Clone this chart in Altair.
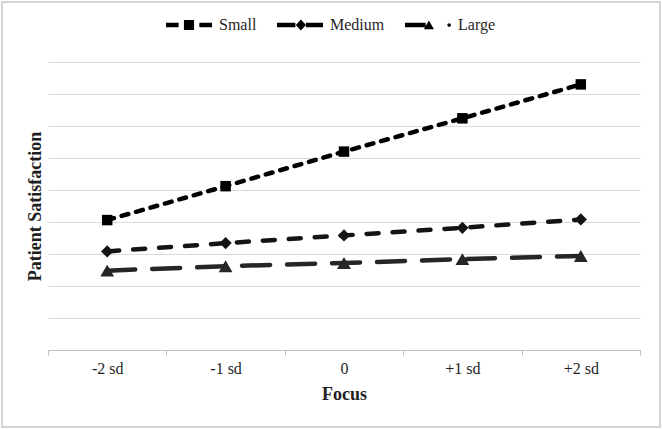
import altair as alt
import pandas as pd

focus_levels = ["-2 sd", "-1 sd", "0", "+1 sd", "+2 sd"]
series_names = ["Small", "Medium", "Large"]
small_values = [3.03, 3.56, 4.10, 4.62, 5.15]
medium_values = [2.54, 2.67, 2.79, 2.91, 3.04]
large_values = [2.24, 2.31, 2.36, 2.42, 2.47]
y_ticks = [1.0, 1.5, 2.0, 2.5, 3.0, 3.5, 4.0, 4.5, 5.0, 5.5]

line_colors = ["#000000", "#141414", "#262626"]
dash_patterns = [[7, 8], [12, 14], [28, 17]]
marker_shapes = ["square", "diamond", "triangle-up"]
marker_sizes = [110, 190, 150]
legend_paths = [
    "M-1,-0.1H-0.45V0.1H-1Z M-0.22,-0.22H0.22V0.22H-0.22Z M0.45,-0.1H1V0.1H0.45Z",
    "M-1,-0.1H-0.2V0.1H-1Z M-0.18,0L0.04,-0.24L0.26,0L0.04,0.24Z M0.26,-0.1H1V0.1H0.26Z",
    "M-1,-0.1H-0.1V0.1H-1Z M-0.18,0.18L0.04,-0.2L0.26,0.18Z M0.84,0a0.08,0.08 0 1,0 0.16,0a0.08,0.08 0 1,0 -0.16,0Z",
]

rows = []
for name, vals in zip(series_names, [small_values, medium_values, large_values]):
    for f, v in zip(focus_levels, vals):
        rows.append({"Focus": f, "Series": name, "Value": v})
df = pd.DataFrame(rows)

FONT = "Liberation Serif"
TEXT = "#1f1f1f"

x_enc = alt.X(
    "Focus:N",
    sort=focus_levels,
    scale=alt.Scale(type="band", paddingInner=0, paddingOuter=0),
    axis=alt.Axis(
        title="Focus", labelAngle=0, grid=False, tickBand="extent",
        domainColor="#bfbfbf", tickColor="#bfbfbf", tickSize=5, domainWidth=1.2,
        labelPadding=5, titlePadding=9,
    ),
)
y_enc = alt.Y(
    "Value:Q",
    scale=alt.Scale(domain=[1, 5.5], nice=False, zero=False),
    axis=alt.Axis(
        title="Patient Satisfaction", values=y_ticks, labels=False, ticks=False,
        domain=False, grid=True, gridColor="#d9d9d9", gridWidth=1.2, titlePadding=4,
    ),
)
color_enc = alt.Color("Series:N", scale=alt.Scale(domain=series_names, range=line_colors), legend=None)

base = alt.Chart(df)

lines = base.mark_line(strokeWidth=4.5, strokeCap="round").encode(
    x=x_enc, y=y_enc, color=color_enc,
    strokeDash=alt.StrokeDash("Series:N", scale=alt.Scale(domain=series_names, range=dash_patterns), legend=None),
)

points = base.mark_point(filled=True, opacity=1).encode(
    x=x_enc, y=y_enc, color=color_enc,
    shape=alt.Shape("Series:N", scale=alt.Scale(domain=series_names, range=marker_shapes), legend=None),
    size=alt.Size("Series:N", scale=alt.Scale(domain=series_names, range=marker_sizes), legend=None),
)

legend_layer = base.mark_point(filled=True, opacity=0, color="#000000").encode(
    x=x_enc, y=y_enc,
    shape=alt.Shape(
        "Series:N",
        scale=alt.Scale(domain=series_names, range=legend_paths),
        legend=alt.Legend(
            title=None, orient="none", legendX=118, legendY=-60, direction="horizontal",
            columns=3, symbolSize=2116, symbolFillColor="#000000", symbolStrokeWidth=0,
            symbolOpacity=1, labelFont=FONT, labelFontSize=16, labelColor=TEXT,
            labelOffset=7, columnPadding=20, padding=0,
        ),
    ),
)

border = alt.Chart(alt.Data(values=[{"b": 1}])).mark_rect(
    fillOpacity=0, stroke="#c6c6c6", strokeWidth=1.5
).encode(
    x=alt.value(-46), x2=alt.value(612), y=alt.value(-60), y2=alt.value(365)
)

chart = alt.layer(border, lines, points, legend_layer).resolve_scale(
    shape="independent"
).properties(
    width=592, height=288,
    autosize=alt.AutoSizeParams(type="none"),
    padding={"left": 48, "top": 62, "right": 22, "bottom": 79},
    background="white",
).configure_view(
    stroke="transparent"
).configure_axis(
    labelFont=FONT, labelFontSize=16, labelColor=TEXT,
    titleFont=FONT, titleFontSize=18, titleFontWeight="bold", titleColor=TEXT,
)

chart.save("out.html", embed_options={"renderer": "svg", "actions": False})
